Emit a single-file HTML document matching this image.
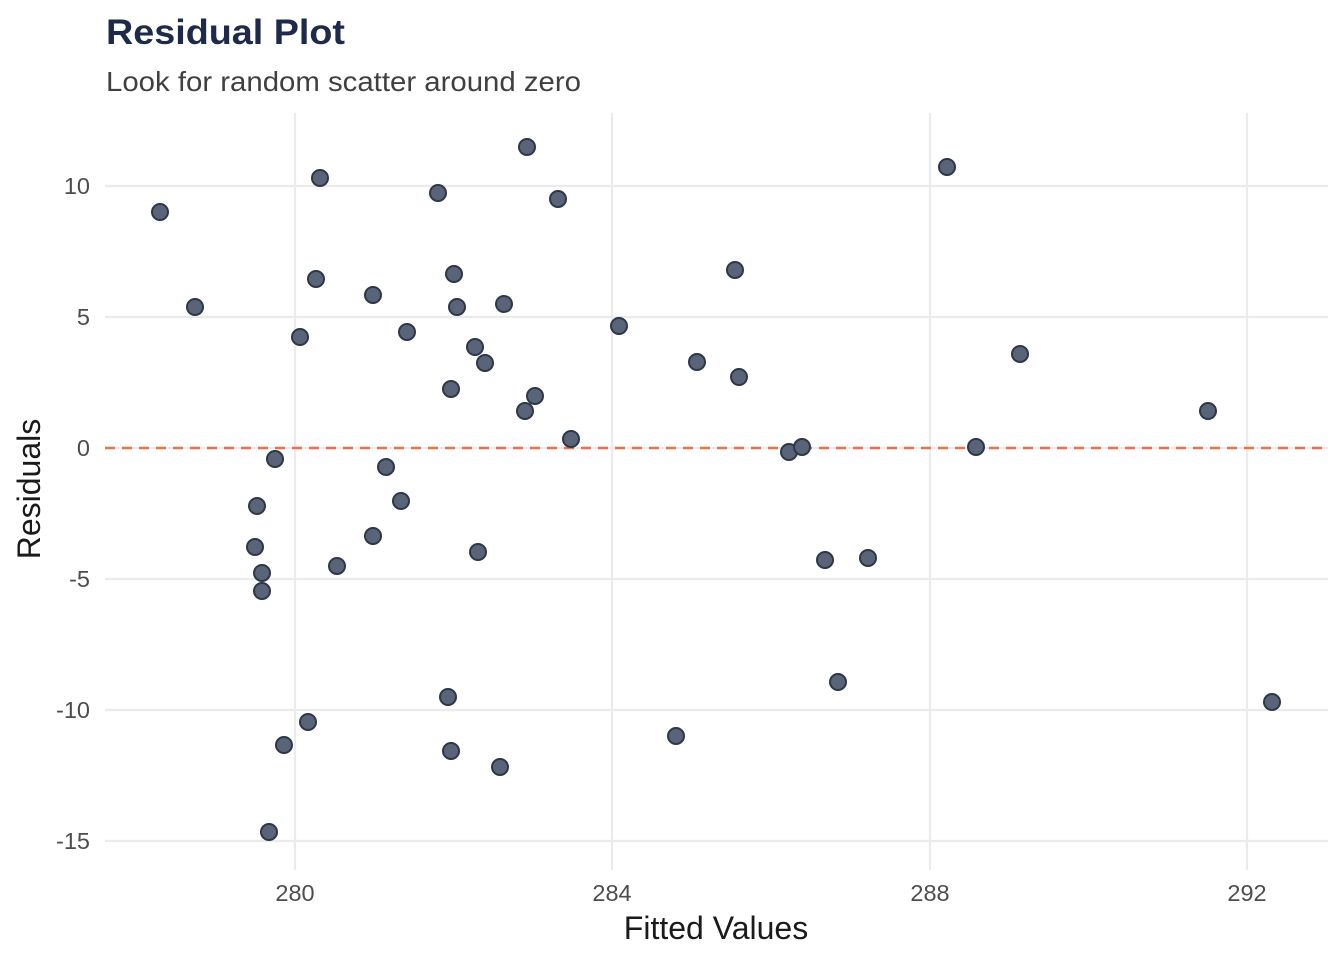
<!DOCTYPE html>
<html><head><meta charset="utf-8"><style>
html,body{margin:0;padding:0;background:#fff;}
svg{display:block;font-family:"Liberation Sans",Arial,sans-serif;}
</style></head><body>
<svg width="1344" height="960" viewBox="0 0 1344 960" xmlns="http://www.w3.org/2000/svg">
<rect width="1344" height="960" fill="#fff"/>
<text x="106" y="44" font-size="35" font-weight="bold" fill="#1e2a4a" textLength="239" lengthAdjust="spacingAndGlyphs">Residual Plot</text>
<text x="106" y="91" font-size="28" fill="#404040" textLength="475" lengthAdjust="spacingAndGlyphs">Look for random scatter around zero</text>
<g stroke="#ebebeb" stroke-width="2.2">
<line x1="295" y1="113" x2="295" y2="870"/>
<line x1="612" y1="113" x2="612" y2="870"/>
<line x1="930" y1="113" x2="930" y2="870"/>
<line x1="1247" y1="113" x2="1247" y2="870"/>
<line x1="105" y1="186" x2="1328" y2="186"/>
<line x1="105" y1="317" x2="1328" y2="317"/>
<line x1="105" y1="448" x2="1328" y2="448"/>
<line x1="105" y1="579" x2="1328" y2="579"/>
<line x1="105" y1="710" x2="1328" y2="710"/>
<line x1="105" y1="841" x2="1328" y2="841"/>
</g>
<line x1="105" y1="448" x2="1328" y2="448" stroke="#e8704a" stroke-width="2.5" stroke-dasharray="10,7"/>
<g fill="#5a6478" stroke="#2d3748" stroke-width="2">
<circle cx="160" cy="212" r="8"/><circle cx="195" cy="307" r="8"/><circle cx="320" cy="178" r="8"/><circle cx="316" cy="279" r="8"/>
<circle cx="300" cy="337" r="8"/><circle cx="373" cy="295" r="8"/><circle cx="407" cy="332" r="8"/><circle cx="438" cy="193" r="8"/>
<circle cx="454" cy="274" r="8"/><circle cx="457" cy="307" r="8"/><circle cx="504" cy="304" r="8"/><circle cx="527" cy="147" r="8"/>
<circle cx="558" cy="199" r="8"/><circle cx="475" cy="347" r="8"/><circle cx="485" cy="363" r="8"/><circle cx="451" cy="389" r="8"/>
<circle cx="525" cy="411" r="8"/><circle cx="535" cy="396" r="8"/><circle cx="571" cy="439" r="8"/><circle cx="619" cy="326" r="8"/>
<circle cx="697" cy="362" r="8"/><circle cx="735" cy="270" r="8"/><circle cx="739" cy="377" r="8"/><circle cx="947" cy="167" r="8"/>
<circle cx="1020" cy="354" r="8"/><circle cx="1208" cy="411" r="8"/><circle cx="789" cy="452" r="8"/><circle cx="802" cy="447" r="8"/>
<circle cx="976" cy="447" r="8"/><circle cx="275" cy="459" r="8"/><circle cx="386" cy="467" r="8"/><circle cx="401" cy="501" r="8"/>
<circle cx="257" cy="506" r="8"/><circle cx="373" cy="536" r="8"/><circle cx="255" cy="547" r="8"/><circle cx="478" cy="552" r="8"/>
<circle cx="337" cy="566" r="8"/><circle cx="262" cy="573" r="8"/><circle cx="262" cy="591" r="8"/><circle cx="825" cy="560" r="8"/>
<circle cx="868" cy="558" r="8"/><circle cx="838" cy="682" r="8"/><circle cx="448" cy="697" r="8"/><circle cx="308" cy="722" r="8"/>
<circle cx="1272" cy="702" r="8"/><circle cx="676" cy="736" r="8"/><circle cx="284" cy="745" r="8"/><circle cx="451" cy="751" r="8"/>
<circle cx="500" cy="767" r="8"/><circle cx="269" cy="832" r="8"/>
</g>
<g font-size="23.5" fill="#4d4d4d" text-anchor="end">
<text x="90" y="194">10</text><text x="90" y="325">5</text><text x="90" y="456">0</text>
<text x="90" y="587">-5</text><text x="90" y="718">-10</text><text x="90" y="849">-15</text>
</g>
<g font-size="23.5" fill="#4d4d4d" text-anchor="middle">
<text x="295" y="901">280</text><text x="612" y="901">284</text><text x="930" y="901">288</text><text x="1247" y="901">292</text>
</g>
<text x="716" y="939" font-size="32" fill="#1a1a1a" text-anchor="middle">Fitted Values</text>
<text transform="translate(40,489) rotate(-90)" font-size="32" fill="#1a1a1a" text-anchor="middle">Residuals</text>
</svg>
</body></html>
